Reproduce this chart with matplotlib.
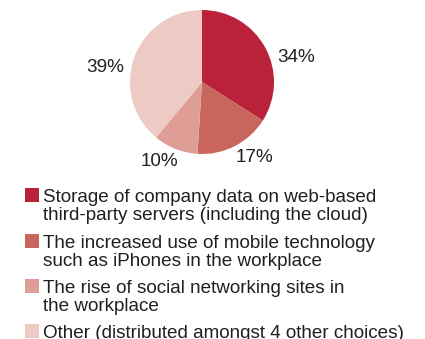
import matplotlib
matplotlib.use("Agg")
import matplotlib.pyplot as plt
from matplotlib.patches import Rectangle
import numpy as np

categories = [
    "Storage of company data on web-based\nthird-party servers (including the cloud)",
    "The increased use of mobile technology\nsuch as iPhones in the workplace",
    "The rise of social networking sites in\nthe workplace",
    "Other (distributed amongst 4 other choices)",
]
values = [34, 17, 10, 39]
value_labels = ["34%", "17%", "10%", "39%"]

colors = ["#B92238", "#C8665E", "#DE9E96", "#EDCBC4"]
text_color = "#231F20"
font = "Liberation Sans"
fs = 13.6

W, H = 425, 339
fig = plt.figure(figsize=(W / 100, H / 100), dpi=100)

# pie axes: center (202, 82) px, radius 72 px
cx, cy, r = 202, 82, 72
ax = fig.add_axes([(cx - r) / W, (H - cy - r) / H, 2 * r / W, 2 * r / H])
wedges, _ = ax.pie(values, colors=colors, startangle=90, counterclock=False,
                   radius=1, wedgeprops=dict(linewidth=0))
ax.set_xlim(-1, 1)
ax.set_ylim(-1, 1)
ax.set_aspect("equal")
ax.axis("off")

# label positions (angle deg, radial distance)
label_pos = [(14.3, 1.35), (-54.8, 1.275), (-118, 1.25), (171.5, 1.355)]
for txt, (ang, dist) in zip(value_labels, label_pos):
    a = np.deg2rad(ang)
    ax.text(dist * np.cos(a), dist * np.sin(a), txt, ha="center", va="center",
            fontsize=fs, family=font, color=text_color, clip_on=False)

# legend
tops = [188, 234, 279, 324]
for lab, col, top in zip(categories, colors, tops):
    fig.patches.append(Rectangle((25 / W, (H - top - 14) / H), 14 / W, 14 / H,
                                 transform=fig.transFigure, facecolor=col,
                                 edgecolor="none"))
    lines = lab.split("\n")
    for i, line in enumerate(lines):
        fig.text(43 / W, (H - top - 14 - 18.4 * i) / H, line, ha="left",
                 va="baseline", fontsize=fs, family=font, color=text_color)

fig.savefig("out.png", dpi=100, facecolor="white")
